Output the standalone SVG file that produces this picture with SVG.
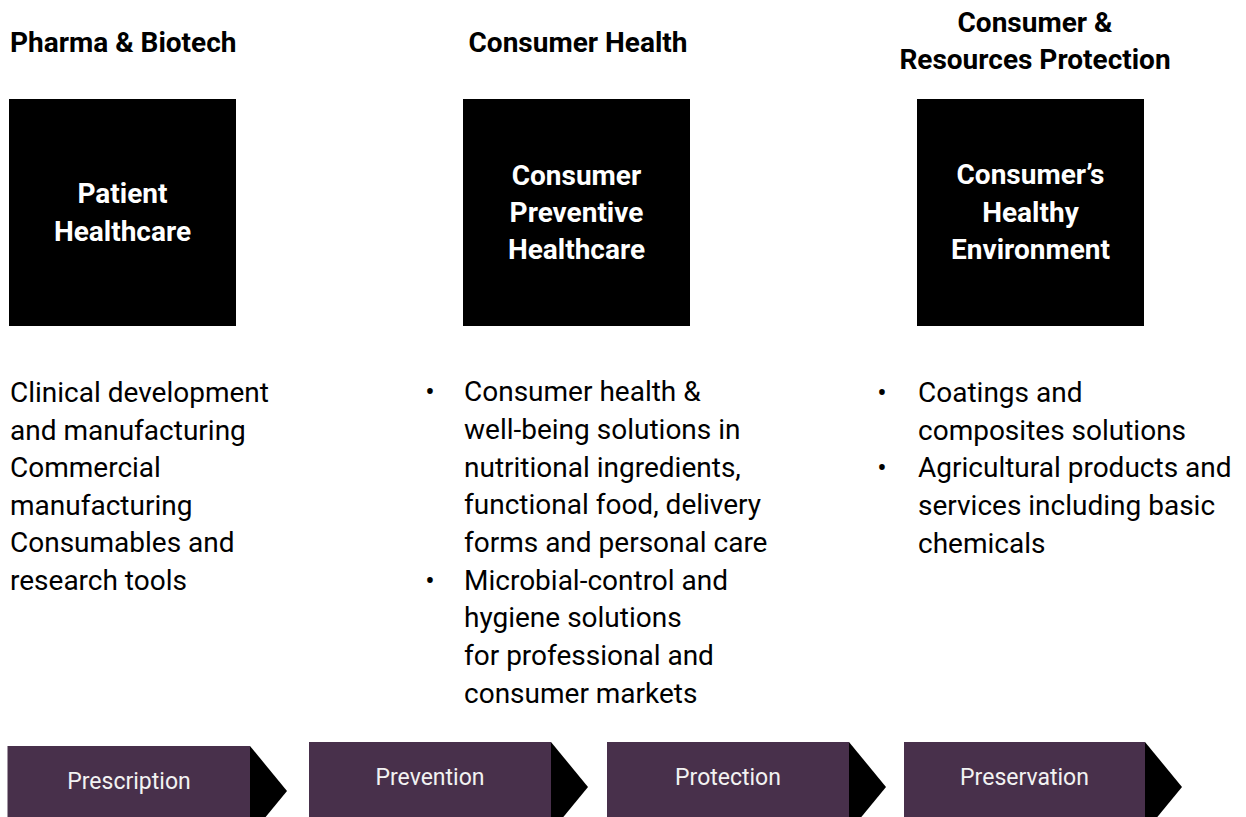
<svg xmlns="http://www.w3.org/2000/svg" width="1246" height="817" viewBox="0 0 1246 817">
<style>
text{font-family:Roboto,"Liberation Sans",Arial,sans-serif;}
.hd{font-size:28px;font-weight:700;fill:#000;}
.bx{fill:#000;}
.bt{font-size:28px;font-weight:700;fill:#fff;text-anchor:middle;}
.body{font-size:28px;fill:#000;}
.bul{font-size:28px;fill:#000;text-anchor:middle;}
.chev{fill:#48304B;}
.tri{fill:#000;}
.ct{font-size:23px;fill:#f2f2f2;text-anchor:middle;}
</style>
<rect width="1246" height="817" fill="#fff"/>

<g id="col-pharma">
  <text class="hd" x="10" y="52">Pharma &amp; Biotech</text>
  <g id="node-patient-healthcare">
    <rect class="bx" x="9" y="99" width="227" height="227"/>
    <text class="bt" x="122.5" y="203">Patient</text>
    <text class="bt" x="122.5" y="241">Healthcare</text>
  </g>
  <g id="list-pharma" class="body">
    <text class="body" x="10" y="402">Clinical development</text>
    <text class="body" x="10" y="440">and manufacturing</text>
    <text class="body" x="10" y="477">Commercial</text>
    <text class="body" x="10" y="515">manufacturing</text>
    <text class="body" x="10" y="552">Consumables and</text>
    <text class="body" x="10" y="590">research tools</text>
  </g>
</g>

<g id="col-consumer-health">
  <text class="hd" x="578" y="52" text-anchor="middle">Consumer Health</text>
  <g id="node-consumer-preventive">
    <rect class="bx" x="463" y="99" width="227" height="227"/>
    <text class="bt" x="576.5" y="185">Consumer</text>
    <text class="bt" x="576.5" y="222">Preventive</text>
    <text class="bt" x="576.5" y="259">Healthcare</text>
  </g>
  <g id="list-consumer-health">
    <text class="bul" x="430" y="401">•</text>
    <text class="body" x="464" y="401">Consumer health &amp;</text>
    <text class="body" x="464" y="439">well-being solutions in</text>
    <text class="body" x="464" y="477">nutritional ingredients,</text>
    <text class="body" x="464" y="514">functional food, delivery</text>
    <text class="body" x="464" y="552">forms and personal care</text>
    <text class="bul" x="430" y="590">•</text>
    <text class="body" x="464" y="590">Microbial-control and</text>
    <text class="body" x="464" y="627">hygiene solutions</text>
    <text class="body" x="464" y="665">for professional and</text>
    <text class="body" x="464" y="703">consumer markets</text>
  </g>
</g>

<g id="col-resources">
  <text class="hd" x="1035" y="32" text-anchor="middle">Consumer &amp;</text>
  <text class="hd" x="1035" y="69" text-anchor="middle">Resources Protection</text>
  <g id="node-healthy-environment">
    <rect class="bx" x="917" y="99" width="227" height="227"/>
    <text class="bt" x="1030.5" y="184">Consumer’s</text>
    <text class="bt" x="1030.5" y="222">Healthy</text>
    <text class="bt" x="1030.5" y="259">Environment</text>
  </g>
  <g id="list-resources">
    <text class="bul" x="882" y="402">•</text>
    <text class="body" x="918" y="402">Coatings and</text>
    <text class="body" x="918" y="440">composites solutions</text>
    <text class="bul" x="882" y="477">•</text>
    <text class="body" x="918" y="477">Agricultural products and</text>
    <text class="body" x="918" y="515">services including basic</text>
    <text class="body" x="918" y="553">chemicals</text>
  </g>
</g>

<g id="chevron-prescription">
  <rect class="chev" x="7.5" y="746" width="242.5" height="90"/>
  <polygon class="tri" points="250,746 287,791 250,836"/>
  <text class="ct" x="129" y="789">Prescription</text>
</g>
<g id="chevron-prevention">
  <rect class="chev" x="309" y="742" width="242" height="90"/>
  <polygon class="tri" points="551,742 588,787 551,832"/>
  <text class="ct" x="430" y="785">Prevention</text>
</g>
<g id="chevron-protection">
  <rect class="chev" x="607" y="742" width="242" height="90"/>
  <polygon class="tri" points="849,742 886,787 849,832"/>
  <text class="ct" x="728" y="785">Protection</text>
</g>
<g id="chevron-preservation">
  <rect class="chev" x="904" y="742" width="241" height="90"/>
  <polygon class="tri" points="1145,742 1182,787 1145,832"/>
  <text class="ct" x="1024.5" y="785">Preservation</text>
</g>
</svg>
